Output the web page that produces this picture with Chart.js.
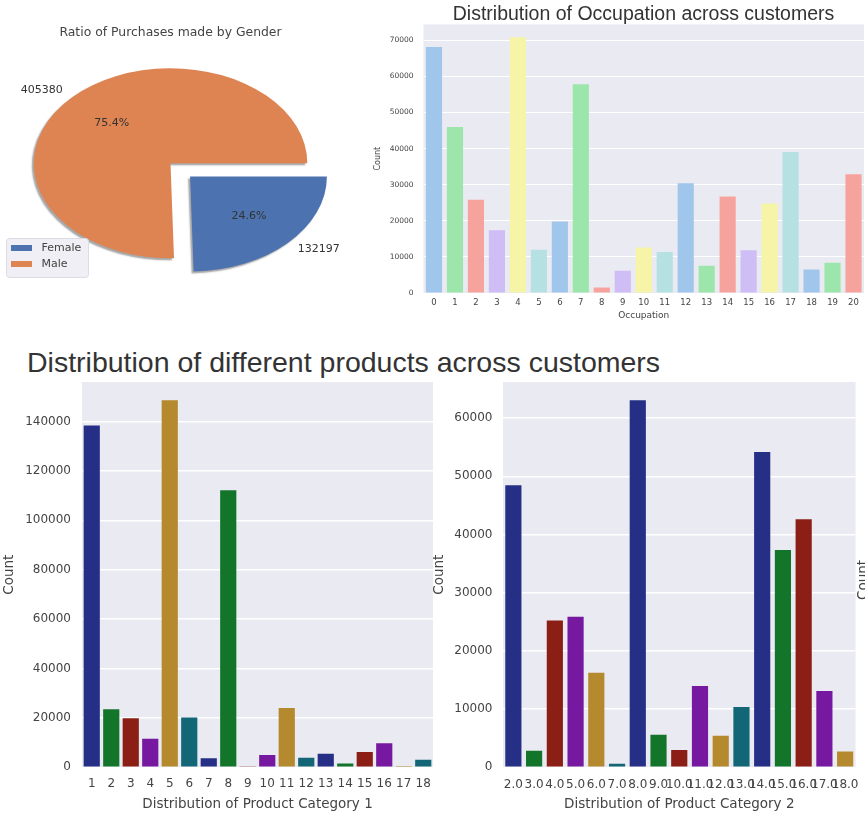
<!DOCTYPE html>
<html>
<head>
<meta charset="utf-8">
<title>Black Friday customers</title>
<style>
	body { margin: 0; background: #fff; width: 865px; height: 819px; position: relative; overflow: hidden; font-family: "DejaVu Sans", sans-serif; }
	canvas { position: absolute; }
	#occTitle { position: absolute; left: 423px; top: 1px; width: 441px; text-align: center; font: 19.5px/24px "Liberation Sans", Arial, sans-serif; color: #333; white-space: nowrap; }
	#suptitle { position: absolute; left: 27px; top: 346px; font: 28.5px/32px "Liberation Sans", Arial, sans-serif; color: #333; white-space: nowrap; }
	#cutCount { position: absolute; left: 832px; top: 572px; width: 60px; height: 16px; line-height: 16px; text-align: center; font-size: 13.5px; color: #444; transform: rotate(-90deg); }
</style>
</head>
<body>

	<canvas id="pie" width="345" height="300" style="left:0;top:0"></canvas>
	<canvas id="occ" width="505" height="325" style="left:360px;top:0"></canvas>
	<div id="occTitle">Distribution of Occupation across customers</div>

	<div id="suptitle">Distribution of different products across customers</div>
	<canvas id="cat1" width="437" height="444" style="left:0;top:375px"></canvas>
	<canvas id="cat2" width="440" height="444" style="left:425px;top:375px"></canvas>
	<div id="cutCount">Count</div>

	<script src="https://cdn.jsdelivr.net/npm/chart.js@4.4.0/dist/chart.umd.min.js"></script>
	<script type="text/javascript">

		// ---- data ----
		var genderLabels = ['Female', 'Male'];
		var genderCounts = [132197, 405380];

		var occupationLabels = ['0','1','2','3','4','5','6','7','8','9','10','11','12','13','14','15','16','17','18','19','20'];
		var occupationCounts = [68120, 45970, 25850, 17370, 70860, 11990, 19820, 57810, 1520, 6150, 12620,
		                        11340, 30420, 7550, 26710, 11810, 24790, 39090, 6530, 8350, 32910];
		var occupationTicks = [0, 10000, 20000, 30000, 40000, 50000, 60000, 70000];

		var cat1Labels = ['1','2','3','4','5','6','7','8','9','10','11','12','13','14','15','16','17','18'];
		var cat1Counts = [138350, 23500, 19850, 11570, 148590, 20160, 3670, 112130, 400, 5030, 23960,
		                  3880, 5440, 1500, 6200, 9700, 570, 3080];
		var cat1Ticks = [0, 20000, 40000, 60000, 80000, 100000, 120000, 140000];

		var cat2Labels = ['2.0','3.0','4.0','5.0','6.0','7.0','8.0','9.0','10.0','11.0','12.0','13.0',
		                  '14.0','15.0','16.0','17.0','18.0'];
		var cat2Counts = [48480, 2840, 25230, 25870, 16250, 620, 63060, 5590, 2990, 13950, 5420, 10370,
		                  54160, 37320, 42600, 13130, 2730];
		var cat2Ticks = [0, 10000, 20000, 30000, 40000, 50000, 60000];

		// ---- colours ----
		var genderColors = ['#4c72b0', '#dd8452'];
		var pastel = ['#a1c6ec', '#9de6ab', '#f7a39d', '#cfbdf6', '#f6f4a6', '#b5e1e3'];
		var dark = ['#252f85', '#12752a', '#8b1f15', '#7619a0', '#b5892e', '#126676'];

		function cycle(pal, n) {
			var arr = [];
			for (var i = 0; i < n; i++) arr.push(pal[i % pal.length]);
			return arr;
		}

		Chart.defaults.font.family = '"DejaVu Sans", sans-serif';
		Chart.defaults.color = '#444';

		// grey plot background like seaborn darkgrid
		var plotBg = {
			id: 'plotBg',
			beforeDraw: function (chart) {
				var a = chart.chartArea, ctx = chart.ctx;
				ctx.save();
				ctx.fillStyle = '#eaeaf2';
				ctx.fillRect(a.left, a.top, a.right - a.left, a.bottom - a.top);
				ctx.restore();
			}
		};

		function makeBar(id, labels, values, colors, o) {
			return new Chart(document.getElementById(id), {
				type: 'bar',
				data: {
					labels: labels,
					datasets: [{
						data: values,
						backgroundColor: colors,
						borderWidth: 0,
						barPercentage: o.barPct,
						categoryPercentage: 1
					}]
				},
				options: {
					responsive: false,
					animation: false,
					layout: { padding: o.pad },
					plugins: { legend: { display: false }, tooltip: { enabled: false } },
					scales: {
						x: {
							grid: { display: false, drawTicks: false },
							border: { display: false },
							ticks: { font: { size: o.xTickSize || o.tickSize }, padding: o.xTickPad, autoSkip: false, maxRotation: 0, color: '#444' },
							title: { display: true, text: o.xTitle, font: { size: o.titleSize }, color: '#444', padding: { top: 0, bottom: o.xTitlePad } },
							afterFit: function (s) { s.height = o.xHeight; s.paddingLeft = 0; s.paddingRight = 0; }
						},
						y: {
							min: 0,
							max: o.max,
							grid: { color: '#ffffff', lineWidth: o.gridW, drawTicks: false },
							border: { display: false },
							ticks: {
								font: { size: o.tickSize }, padding: o.yTickPad, color: '#444', autoSkip: false,
								callback: function (v) { return String(v); }
							},
							title: { display: true, text: 'Count', font: { size: o.yTitleSize || o.titleSize }, color: '#444', padding: { top: o.yTitlePad, bottom: 0 } },
							afterBuildTicks: function (s) { s.ticks = o.ticks.map(function (v) { return { value: v }; }); },
							afterFit: function (s) { s.width = o.yWidth; s.paddingTop = 0; s.paddingBottom = 0; }
						}
					}
				},
				plugins: [plotBg]
			});
		}

		// ---- pie: squashed into an ellipse, with shadow, labels and legend ----
		var SX = 1.44;
		var pieDeco = {
			id: 'pieDeco',
			beforeDatasetsDraw: function (chart) {
				var ctx = chart.ctx, a = chart.chartArea;
				var cx = (a.left + a.right) / 2, cy = (a.top + a.bottom) / 2;
				ctx.save();
				ctx.translate(cx, cy);
				ctx.scale(SX, 1);
				ctx.translate(-cx, -cy);
				ctx.shadowColor = 'rgba(0,0,0,0.35)';
				ctx.shadowOffsetX = -2;
				ctx.shadowOffsetY = 2;
				ctx.shadowBlur = 1.5;
			},
			afterDatasetsDraw: function (chart) {
				var ctx = chart.ctx, a = chart.chartArea;
				ctx.restore();
				var cx = (a.left + a.right) / 2;
				var total = genderCounts[0] + genderCounts[1];
				var meta = chart.getDatasetMeta(0);
				ctx.save();
				ctx.fillStyle = '#333';
				ctx.textBaseline = 'middle';
				meta.data.forEach(function (arc, i) {
					var mid = (arc.startAngle + arc.endAngle) / 2;
					var off = (arc.options.offset || 0) / 4;
					var bx = arc.x + Math.cos(mid) * off, by = arc.y + Math.sin(mid) * off;
					var r = arc.outerRadius;
					var px = function (k) { return cx + (bx + Math.cos(mid) * r * k - cx) * SX; };
					var py = function (k) { return by + Math.sin(mid) * r * k; };
					ctx.font = '11px "DejaVu Sans"';
					ctx.textAlign = 'center';
					ctx.fillText((genderCounts[i] / total * 100).toFixed(1) + '%', px(0.6), py(0.6));
					ctx.textAlign = Math.cos(mid) < 0 ? 'right' : 'left';
					ctx.fillText(String(genderCounts[i]), px(1.1), py(1.1));
				});
				ctx.restore();
			},
			afterDraw: function (chart) {
				var ctx = chart.ctx;
				ctx.save();
				ctx.fillStyle = '#efeff5';
				ctx.strokeStyle = '#dcdce6';
				ctx.lineWidth = 1;
				ctx.beginPath();
				ctx.roundRect(6.5, 238.5, 82, 39, 3);
				ctx.fill();
				ctx.stroke();
				ctx.font = '11px "DejaVu Sans"';
				ctx.textBaseline = 'middle';
				ctx.textAlign = 'left';
				for (var i = 0; i < genderLabels.length; i++) {
					var y = 248 + i * 16;
					ctx.fillStyle = genderColors[i];
					ctx.fillRect(11, y - 3, 21, 6);
					ctx.fillStyle = '#444';
					ctx.fillText(genderLabels[i], 41.5, y);
				}
				ctx.restore();
			}
		};

		new Chart(document.getElementById('pie'), {
			type: 'pie',
			data: {
				labels: genderLabels,
				datasets: [{
					data: genderCounts,
					backgroundColor: genderColors,
					borderWidth: 0,
					offset: [76, 0],
					clip: false
				}]
			},
			options: {
				responsive: false,
				animation: false,
				rotation: 90,
				radius: 95,
				layout: { padding: { left: 0, right: 4, top: 0, bottom: 15.9 } },
				plugins: {
					legend: { display: false },
					tooltip: { enabled: false },
					title: {
						display: true,
						text: 'Ratio of Purchases made by Gender',
						font: { size: 12.4, weight: 'normal' },
						color: '#444',
						padding: { top: 25.6, bottom: 2 }
					}
				}
			},
			plugins: [pieDeco]
		});

		makeBar('occ', occupationLabels, occupationCounts, cycle(pastel, occupationLabels.length), {
			barPct: 0.77, max: 74400, ticks: occupationTicks, gridW: 1,
			tickSize: 7.5, xTickSize: 8.5, titleSize: 9, yTitleSize: 8,
			xTickPad: 4.6, yTickPad: 10, xTitlePad: 4.4, yTitlePad: 13.2,
			xTitle: 'Occupation', xHeight: 32, yWidth: 63.5,
			pad: { top: 24.4, right: 1, left: 0, bottom: 0 }
		});

		makeBar('cat1', cat1Labels, cat1Counts, cycle(dark, cat1Labels.length), {
			barPct: 0.83, max: 156000, ticks: cat1Ticks, gridW: 1.5,
			tickSize: 12, titleSize: 13.5,
			xTickPad: 9.5, yTickPad: 11, xTitlePad: 6.9, yTitlePad: 1.1,
			xTitle: 'Distribution of Product Category 1', xHeight: 51.7, yWidth: 82,
			pad: { top: 7, right: 4, left: 0, bottom: 0 }
		});

		makeBar('cat2', cat2Labels, cat2Counts, cycle(dark, cat2Labels.length), {
			barPct: 0.78, max: 66200, ticks: cat2Ticks, gridW: 1.5,
			tickSize: 12, titleSize: 13.5,
			xTickPad: 10, yTickPad: 10.5, xTitlePad: 6.9, yTitlePad: 5.9,
			xTitle: 'Distribution of Product Category 2', xHeight: 51.7, yWidth: 78,
			pad: { top: 7, right: 9.5, left: 0, bottom: 0 }
		});

	</script>

</body>
</html>
